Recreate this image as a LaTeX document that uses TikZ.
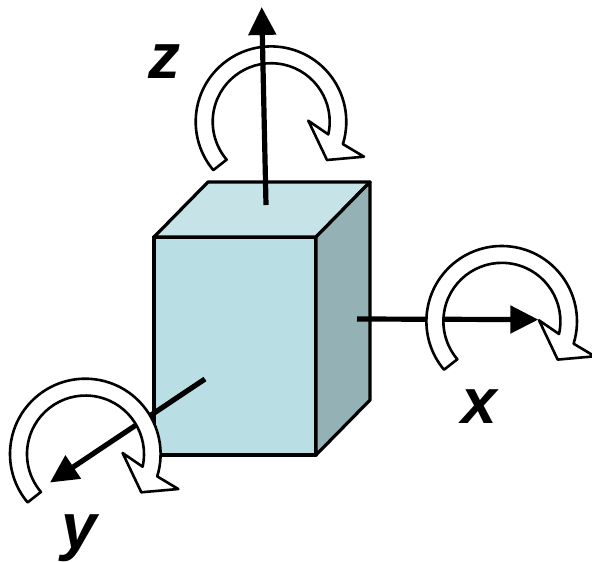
\documentclass[tikz,border=0pt]{standalone}
\usepackage{fontspec}
\setmainfont{Liberation Sans}
\usetikzlibrary{arrows.meta}
\definecolor{boxfront}{HTML}{B9DEE3}
\definecolor{boxtop}{HTML}{C6E4E8}
\definecolor{boxside}{HTML}{94B2B5}
\tikzset{
  x=1pt,y=1pt,
  edge/.style={line width=3.2pt,line join=round,draw=black},
  axisline/.style={line width=5.2pt,draw=black,-{Triangle[length=28pt,width=27pt]}},
  rot/.style={line width=2.6pt,draw=black,fill=white,line join=round},
  lab/.style={inner sep=0pt,font=\fontsize{64}{64}\selectfont\bfseries\itshape}
}
\newcommand{\rotarrow}[2]{%
  \draw[rot,shift={(#1,-#2)}]
    (220:75.3) arc[start angle=220,end angle=-17.3,radius=75.3]
    -- (93,-35) -- (56,-38.3) -- (37.3,1)
    -- (57.3,-12.7) arc[start angle=-12.5,end angle=220.4,radius=58.5]
    -- cycle;}
\begin{document}
\begin{tikzpicture}
\useasboundingbox (0,-562) rectangle (592,0);
\coordinate (fa) at (154,-237);
\coordinate (fb) at (316,-237);
\coordinate (fc) at (316,-455);
\coordinate (fd) at (154,-455);
\coordinate (ta) at (208,-182);
\coordinate (tb) at (370,-182);
\coordinate (sb) at (370,-400);
\draw[edge,fill=boxfront] (fa) -- (fb) -- (fc) -- (fd) -- cycle;
\draw[edge,fill=boxtop] (fa) -- (ta) -- (tb) -- (fb) -- cycle;
\draw[edge,fill=boxside] (fb) -- (tb) -- (sb) -- (fc) -- cycle;
\coordinate (xs) at (357,-319);
\coordinate (xe) at (538.3,-319.6);
\coordinate (ys) at (205,-379);
\coordinate (ye) at (50,-482.5);
\coordinate (zs) at (266,-205);
\coordinate (ze) at (261.7,-7);
\draw[axisline] (xs) -- (xe);
\draw[axisline] (ys) -- (ye);
\rotarrow{271}{121.7}
\rotarrow{501.7}{321.3}
\rotarrow{85.3}{454}
\draw[axisline] (zs) -- (ze);
\node[lab] (lz) at (164,-62) {z};
\node[lab] (lx) at (479,-407) {x};
\node[lab] (ly) at (79,-538.5) {y};
\end{tikzpicture}
\end{document}
